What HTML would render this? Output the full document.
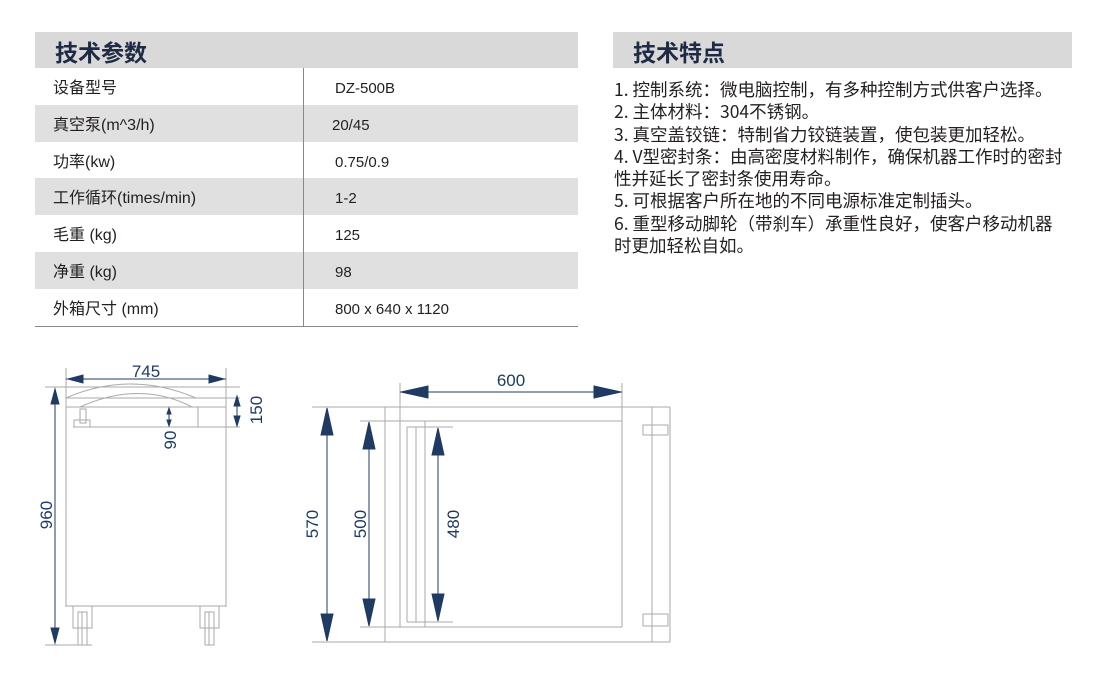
<!DOCTYPE html>
<html><head><meta charset="utf-8"><style>
*{margin:0;padding:0;box-sizing:border-box}
body{width:1100px;height:679px;background:#fff;position:relative;overflow:hidden;font-family:"Liberation Sans","Noto Sans CJK SC",sans-serif;color:#231f20}
.hd{position:absolute;background:#d9d9d9;height:36px;top:32px}
.hd span{position:absolute;left:20px;top:2px;font-size:23px;font-weight:bold;color:#1f2a44;font-family:"Noto Sans CJK SC",sans-serif}
.row{position:absolute;left:35px;width:543px;height:37px;font-size:16px;line-height:37px}
.row.g{background:#e0e0e0}
.row span{position:absolute;top:2px;height:37px;line-height:37px}
.row .a{left:18px}
.row .b{left:300px;font-size:15px}
.feat{position:absolute;left:614px;top:79px;font-size:17.5px;line-height:22.3px;white-space:pre;font-family:"Noto Sans CJK SC",sans-serif;color:#231f20}
svg{position:absolute;left:0;top:0}
</style></head><body>
<div class="hd" style="left:35px;width:543px"><span>技术参数</span></div>
<div class="hd" style="left:613px;width:459px"><span>技术特点</span></div>
<div class="row" style="top:68px"><span class="a">设备型号</span><span class="b">DZ-500B</span></div>
<div class="row g" style="top:105px"><span class="a">真空泵(m^3/h)</span><span class="b" style="left:297px">20/45</span></div>
<div class="row" style="top:142px"><span class="a">功率(kw)</span><span class="b">0.75/0.9</span></div>
<div class="row g" style="top:178px"><span class="a">工作循环(times/min)</span><span class="b">1-2</span></div>
<div class="row" style="top:215px"><span class="a">毛重 (kg)</span><span class="b">125</span></div>
<div class="row g" style="top:252px"><span class="a">净重 (kg)</span><span class="b">98</span></div>
<div class="row" style="top:289px"><span class="a">外箱尺寸 (mm)</span><span class="b">800 x 640 x 1120</span></div>
<div style="position:absolute;left:303px;top:68px;width:1px;height:259px;background:#888"></div>
<div style="position:absolute;left:35px;top:326px;width:543px;height:1px;background:#888"></div>
<div class="feat">1. 控制系统：微电脑控制，有多种控制方式供客户选择。
2. 主体材料：304不锈钢。
3. 真空盖铰链：特制省力铰链装置，使包装更加轻松。
4. V型密封条：由高密度材料制作，确保机器工作时的密封
性并延长了密封条使用寿命。
5. 可根据客户所在地的不同电源标准定制插头。
6. 重型移动脚轮（带刹车）承重性良好，使客户移动机器
时更加轻松自如。</div>
<svg width="1100" height="679" viewBox="0 0 1100 679">
<g stroke="#aaa" stroke-width="1" fill="none">
<line x1="66" y1="368" x2="66" y2="607"/><line x1="226" y1="368" x2="226" y2="607"/>
<line x1="45" y1="387" x2="240" y2="387"/>
<line x1="66" y1="398" x2="240" y2="398"/>
<path d="M66 398 Q130 370 196 398"/>
<path d="M80 407 Q140 380 192 407"/>
<line x1="66" y1="407" x2="226" y2="407"/>
<line x1="73" y1="427" x2="240" y2="427"/>
<line x1="198" y1="407" x2="198" y2="427"/>
<line x1="66" y1="606" x2="226" y2="606"/>
<rect x="80" y="409" width="6" height="14"/><rect x="74" y="420" width="16" height="7"/>
<rect x="73" y="606" width="19" height="22"/><rect x="78" y="612" width="9" height="33"/><line x1="82" y1="612" x2="82" y2="645"/>
<rect x="200" y="606" width="19" height="22"/><rect x="205" y="612" width="9" height="33"/><line x1="209" y1="612" x2="209" y2="645"/>
<line x1="45" y1="645" x2="92" y2="645"/>
<line x1="312" y1="407" x2="670" y2="407"/><line x1="312" y1="642" x2="670" y2="642"/>
<line x1="385" y1="407" x2="385" y2="642"/><line x1="652" y1="407" x2="652" y2="642"/><line x1="670" y1="407" x2="670" y2="642"/>
<line x1="400" y1="383" x2="400" y2="627"/><line x1="622" y1="383" x2="622" y2="627"/>
<line x1="360" y1="421" x2="622" y2="421"/><line x1="360" y1="627" x2="622" y2="627"/>
<line x1="407" y1="427" x2="407" y2="622"/><line x1="416" y1="427" x2="416" y2="622"/><line x1="425" y1="421" x2="425" y2="627"/>
<line x1="407" y1="427" x2="453" y2="427"/><line x1="407" y1="622" x2="453" y2="622"/>
<rect x="643" y="425" width="25" height="10"/><rect x="643" y="614" width="25" height="12"/>
</g>
<g stroke="#1f3a63" stroke-width="1" fill="#1f3a63">
<line x1="66" y1="379" x2="226" y2="379"/>
<polygon points="68,379 83,375 83,383"/><polygon points="224,379 209,375 209,383"/>
<line x1="55" y1="389" x2="55" y2="643"/>
<polygon points="55,389 51,404 59,404"/><polygon points="55,643 51,628 59,628"/>
<line x1="237" y1="396" x2="237" y2="426"/>
<polygon points="237,396 234,406 240,406"/><polygon points="237,426 234,416 240,416"/>
<line x1="169" y1="408" x2="169" y2="426"/>
<polygon points="169,408 167,414 171,414"/><polygon points="169,426 167,420 171,420"/>
<line x1="400" y1="392" x2="622" y2="392"/>
<polygon points="401,392 428,386 428,398"/><polygon points="621,392 594,386 594,398"/>
<line x1="327" y1="408" x2="327" y2="641"/>
<polygon points="327,408 321,435 333,435"/><polygon points="327,641 321,614 333,614"/>
<line x1="369" y1="422" x2="369" y2="626"/>
<polygon points="369,422 363,449 375,449"/><polygon points="369,626 363,599 375,599"/>
<line x1="438" y1="428" x2="438" y2="621"/>
<polygon points="438,428 432,455 444,455"/><polygon points="438,621 432,594 444,594"/>
</g>
<g fill="#1f3a63" font-family="Liberation Sans, sans-serif" font-size="17">
<text x="146" y="377" text-anchor="middle">745</text>
<text x="511" y="386" text-anchor="middle">600</text>
<text transform="translate(52,515) rotate(-90)" text-anchor="middle">960</text>
<text transform="translate(262,410) rotate(-90)" text-anchor="middle">150</text>
<text transform="translate(176,440) rotate(-90)" text-anchor="middle">90</text>
<text transform="translate(318,524) rotate(-90)" text-anchor="middle">570</text>
<text transform="translate(366,524) rotate(-90)" text-anchor="middle">500</text>
<text transform="translate(459,524) rotate(-90)" text-anchor="middle">480</text>
</g>
</svg>
</body></html>
